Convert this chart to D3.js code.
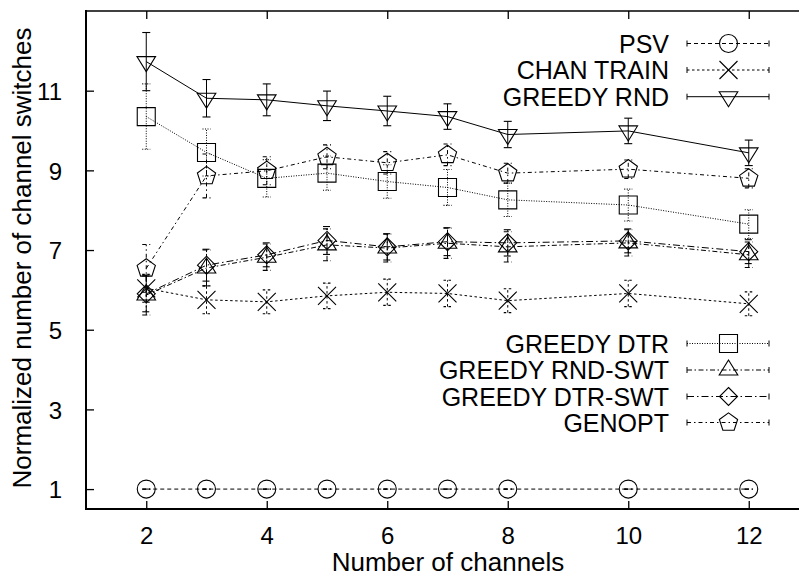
<!DOCTYPE html>
<html>
<head>
<meta charset="utf-8">
<script src="https://cdn.jsdelivr.net/npm/d3@7"></script>
<style>
  html, body { margin: 0; padding: 0; background: #fff; }
  svg { display: block; }
  text { font-family: "Liberation Sans", Arial, Helvetica, sans-serif; fill: #000; }
</style>
</head>
<body>
<svg id="chart" width="799" height="577"></svg>
<script>
// ---------- data ----------
const channels = [2, 3, 4, 5, 6, 7, 8, 10, 12];
const xTicks = [2, 4, 6, 8, 10, 12];
const yTicks = [1, 3, 5, 7, 9, 11];

const seriesNames = ["PSV", "CHAN TRAIN", "GREEDY RND", "GREEDY DTR", "GREEDY RND-SWT", "GREEDY DTR-SWT", "GENOPT"];

const psv          = [1, 1, 1, 1, 1, 1, 1, 1, 1];
const psvErr       = [0, 0, 0, 0, 0, 0, 0, 0, 0];
const chanTrain    = [6.04, 5.75, 5.70, 5.85, 5.94, 5.91, 5.73, 5.91, 5.65];
const chanTrainErr = [0.35, 0.35, 0.30, 0.32, 0.33, 0.33, 0.30, 0.33, 0.30];
const greedyRnd    = [11.73, 10.81, 10.77, 10.62, 10.49, 10.35, 9.90, 9.99, 9.44];
const greedyRndErr = [0.73, 0.47, 0.40, 0.37, 0.37, 0.32, 0.33, 0.32, 0.32];
const greedyDtr    = [10.35, 9.45, 8.80, 8.93, 8.72, 8.57, 8.26, 8.13, 7.65];
const greedyDtrErr = [0.82, 0.59, 0.47, 0.43, 0.42, 0.45, 0.42, 0.40, 0.36];
const greedyRndSwt    = [5.87, 6.55, 6.82, 7.13, 7.05, 7.17, 7.08, 7.18, 6.88];
const greedyRndSwtErr = [0.50, 0.45, 0.33, 0.40, 0.35, 0.38, 0.38, 0.33, 0.32];
const greedyDtrSwt    = [5.90, 6.62, 6.88, 7.24, 7.08, 7.21, 7.18, 7.23, 6.96];
const greedyDtrSwtErr = [0.45, 0.40, 0.30, 0.35, 0.33, 0.35, 0.33, 0.30, 0.30];
const genopt       = [6.54, 8.86, 8.99, 9.34, 9.19, 9.39, 8.93, 9.03, 8.80];
const genoptErr    = [0.60, 0.55, 0.35, 0.30, 0.28, 0.27, 0.25, 0.23, 0.24];

const seriesValues = [psv, chanTrain, greedyRnd, greedyDtr, greedyRndSwt, greedyDtrSwt, genopt];
const seriesErrors = [psvErr, chanTrainErr, greedyRndErr, greedyDtrErr, greedyRndSwtErr, greedyDtrSwtErr, genoptErr];

// ---------- styles ----------
const dashes  = ["4,3", "2.5,2.5", null, "1,1.5", "5,2.5,1.5,2.5", "7,3,1.5,3", "4,3,1.5,3"];
const markers = ["circle", "times", "triangleDown", "square", "triangleUp", "diamond", "pentagon"];
const legendRowsY = [43.5, 70, 96.7, 343.5, 370, 396.5, 422.5];

// ---------- layout ----------
const svg = d3.select("#chart");
const x = d3.scaleLinear().domain([1, 13]).range([86, 809]);
const y = d3.scaleLinear().domain([0.5, 13]).range([509, 11]);
const tickFont = 24, legendFont = 25, titleFont = 26;

function markerPath(type) {
  const p = d3.path();
  switch (type) {
    case "circle": p.arc(0, 0, 9, 0, 2 * Math.PI); break;
    case "times": p.moveTo(-9, -9); p.lineTo(9, 9); p.moveTo(-9, 9); p.lineTo(9, -9); break;
    case "square": p.rect(-9, -9, 18, 18); break;
    case "triangleDown": p.moveTo(-9.3, -5); p.lineTo(9.3, -5); p.lineTo(0, 10); p.closePath(); break;
    case "triangleUp": p.moveTo(-9.3, 5); p.lineTo(9.3, 5); p.lineTo(0, -10); p.closePath(); break;
    case "diamond": p.moveTo(0, -9); p.lineTo(9, 0); p.lineTo(0, 9); p.lineTo(-9, 0); p.closePath(); break;
    case "pentagon": {
      const r = 9.6;
      for (let i = 0; i < 5; i++) {
        const a = -Math.PI / 2 + i * 2 * Math.PI / 5;
        if (i === 0) p.moveTo(r * Math.cos(a), r * Math.sin(a)); else p.lineTo(r * Math.cos(a), r * Math.sin(a));
      }
      p.closePath();
      break;
    }
  }
  return p.toString();
}

// ---------- axes frame ----------
const frame = svg.append("g");
frame.append("line").attr("x1", 86).attr("x2", 799).attr("y1", 509).attr("y2", 509).attr("stroke", "#000").attr("stroke-width", 2);
frame.append("line").attr("x1", 86).attr("x2", 86).attr("y1", 10).attr("y2", 510).attr("stroke", "#000").attr("stroke-width", 2);
frame.append("line").attr("x1", 85).attr("x2", 799).attr("y1", 11).attr("y2", 11).attr("stroke", "#000").attr("stroke-width", 1.6);

const xAxisB = d3.axisBottom(x).tickValues(xTicks).tickSize(-8).tickPadding(18);
const gxb = svg.append("g").attr("transform", "translate(0,509)").call(xAxisB);
gxb.select(".domain").remove();
gxb.selectAll("line").attr("stroke", "#000").attr("stroke-width", 1.3);
gxb.selectAll("text").attr("font-size", tickFont).attr("font-family", "Liberation Sans, Arial, sans-serif").attr("dy", "0.71em").attr("y", 18);

const gxt = svg.append("g").attr("transform", "translate(0,11)").call(d3.axisTop(x).tickValues(xTicks).tickSize(-8).tickFormat(""));
gxt.select(".domain").remove();
gxt.selectAll("line").attr("stroke", "#000").attr("stroke-width", 1.3);

const gy = svg.append("g").attr("transform", "translate(86,0)").call(d3.axisLeft(y).tickValues(yTicks).tickSize(-8).tickPadding(24));
gy.select(".domain").remove();
gy.selectAll("line").attr("stroke", "#000").attr("stroke-width", 1.3);
gy.selectAll("text").attr("font-size", tickFont).attr("font-family", "Liberation Sans, Arial, sans-serif").attr("x", -24).attr("dy", "0.36em");

svg.append("text").attr("x", 448).attr("y", 571).attr("text-anchor", "middle").attr("font-size", titleFont).text("Number of channels");
svg.append("text").attr("transform", "translate(31,258) rotate(-90)").attr("text-anchor", "middle").attr("font-size", titleFont).text("Normalized number of channel switches");

// ---------- series ----------
const plot = svg.append("g");
const line = d3.line().x(d => x(d.x)).y(d => y(d.v));

seriesNames.forEach((name, i) => {
  const pts = channels.map((c, j) => ({ x: c, v: seriesValues[i][j], e: seriesErrors[i][j] }));
  const g = plot.append("g");
  const dash = dashes[i];
  g.append("path").datum(pts).attr("d", line).attr("fill", "none").attr("stroke", "#000").attr("stroke-width", 1).attr("stroke-dasharray", dash);
  // error bars
  const eb = g.selectAll(".eb").data(pts).enter().append("g");
  eb.append("line").attr("x1", d => x(d.x)).attr("x2", d => x(d.x)).attr("y1", d => y(d.v - d.e)).attr("y2", d => y(d.v + d.e))
    .attr("stroke", "#000").attr("stroke-width", 1).attr("stroke-dasharray", dash);
  [-1, 1].forEach(s => {
    eb.append("line").attr("x1", d => x(d.x) - 4).attr("x2", d => x(d.x) + 4).attr("y1", d => y(d.v + s * d.e)).attr("y2", d => y(d.v + s * d.e))
      .attr("stroke", "#000").attr("stroke-width", 1.1).attr("stroke-dasharray", dash);
  });
  // markers
  g.selectAll(".mk").data(pts).enter().append("path")
    .attr("transform", d => `translate(${x(d.x)},${y(d.v)})`)
    .attr("d", markerPath(markers[i])).attr("fill", "none").attr("stroke", "#000").attr("stroke-width", 1.1);

  // legend
  const ly = legendRowsY[i];
  const lg = svg.append("g");
  lg.append("text").attr("x", 669).attr("y", ly).attr("dy", "0.36em").attr("text-anchor", "end").attr("font-size", legendFont).text(name);
  lg.append("line").attr("x1", 687).attr("x2", 769).attr("y1", ly).attr("y2", ly).attr("stroke", "#000").attr("stroke-width", 1).attr("stroke-dasharray", dash);
  [687, 769].forEach(xx => lg.append("line").attr("x1", xx).attr("x2", xx).attr("y1", ly - 3).attr("y2", ly + 3).attr("stroke", "#000").attr("stroke-width", 1));
  lg.append("path").attr("transform", `translate(728.5,${ly})`).attr("d", markerPath(markers[i])).attr("fill", "none").attr("stroke", "#000").attr("stroke-width", 1.1);
});
</script>
</body>
</html>
